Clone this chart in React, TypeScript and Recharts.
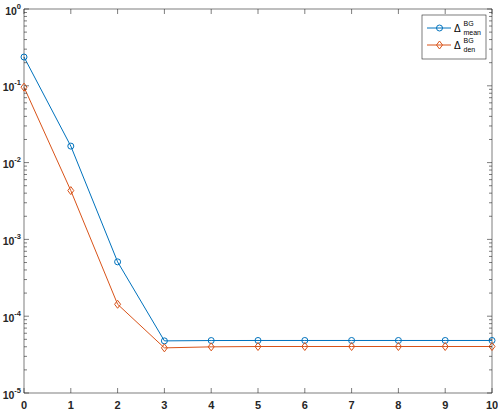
import { LineChart, Line, XAxis, YAxis, ReferenceLine } from "recharts";

// ---------------------------------------------------------------------------
// Data
// ---------------------------------------------------------------------------

const iterations = [0, 1, 2, 3, 4, 5, 6, 7, 8, 9, 10];
const deltaMean = [
  0.237, 0.0164, 5.1e-4, 4.77e-5, 4.82e-5, 4.83e-5, 4.83e-5, 4.83e-5, 4.83e-5,
  4.83e-5, 4.83e-5,
];
const deltaDen = [
  0.096, 0.00432, 1.43e-4, 3.87e-5, 3.99e-5, 4.03e-5, 4.03e-5, 4.03e-5,
  4.03e-5, 4.03e-5, 4.03e-5,
];

const xTicks = [0, 1, 2, 3, 4, 5, 6, 7, 8, 9, 10];
const decadeExponents = [-5, -4, -3, -2, -1, 0];
const minorSteps = [2, 3, 4, 5, 6, 7, 8, 9];

const seriesMeta = [
  { key: "mean", sub: "mean", color: "#0072BD", marker: "circle" },
  { key: "den", sub: "den", color: "#D95319", marker: "diamond" },
];

const data = iterations.map((it, i) => ({
  it,
  mean: deltaMean[i],
  den: deltaDen[i],
}));

const majorTicks = decadeExponents.map((e) => Math.pow(10, e));
const minorTicks = decadeExponents
  .slice(0, -1)
  .flatMap((e) => minorSteps.map((m) => m * Math.pow(10, e)));
const yTicks = [...majorTicks, ...minorTicks].sort((a, b) => a - b);

// ---------------------------------------------------------------------------
// Layout
// ---------------------------------------------------------------------------

const W = 498;
const H = 412;
const M = { top: 9, right: 6, left: 0, bottom: 0 };
const Y_AXIS_W = 24;
const X_AXIS_H = 19;
const PLOT_LEFT = M.left + Y_AXIS_W;
const PLOT_RIGHT = W - M.right;
const PLOT_TOP = M.top;
const PLOT_BOTTOM = H - M.bottom - X_AXIS_H;

const AXIS = "#262626";
const FONT = "'Liberation Sans', Arial, Helvetica, sans-serif";

// ---------------------------------------------------------------------------
// Tick renderers
// ---------------------------------------------------------------------------

function XTick(props: any) {
  const { x, payload } = props;
  return (
    <g>
      <line x1={x} y1={PLOT_BOTTOM} x2={x} y2={PLOT_BOTTOM - 5} stroke={AXIS} strokeWidth={0.6} />
      <line x1={x} y1={PLOT_TOP} x2={x} y2={PLOT_TOP + 5} stroke={AXIS} strokeWidth={0.6} />
      <text
        x={x}
        y={PLOT_BOTTOM + 15.5}
        textAnchor="middle"
        fontSize={11}
        fontWeight="bold"
        fontFamily={FONT}
        fill={AXIS}
      >
        {payload.value}
      </text>
    </g>
  );
}

function YTick(props: any) {
  const { y, payload } = props;
  const v = payload.value as number;
  const exp = Math.round(Math.log10(v));
  const major = Math.abs(Math.pow(10, exp) - v) < v * 1e-6;
  const len = major ? 5 : 3;
  return (
    <g>
      <line x1={PLOT_LEFT} y1={y} x2={PLOT_LEFT + len} y2={y} stroke={AXIS} strokeWidth={0.6} />
      <line x1={PLOT_RIGHT} y1={y} x2={PLOT_RIGHT - len} y2={y} stroke={AXIS} strokeWidth={0.6} />
      {major && (
        <text
          x={PLOT_LEFT - 3}
          y={y + 5.5}
          textAnchor="end"
          fontSize={10.5}
          fontWeight="bold"
          fontFamily={FONT}
          fill={AXIS}
        >
          10
          <tspan dy={-6} fontSize={7.5}>
            {exp}
          </tspan>
        </text>
      )}
    </g>
  );
}

// ---------------------------------------------------------------------------
// Markers
// ---------------------------------------------------------------------------

function circleDot(color: string) {
  return (p: any) => (
    <circle key={p.index} cx={p.cx} cy={p.cy} r={3} fill="none" stroke={color} strokeWidth={1} />
  );
}

function diamondDot(color: string) {
  return (p: any) => (
    <path
      key={p.index}
      d={`M${p.cx},${p.cy - 4} L${p.cx + 3},${p.cy} L${p.cx},${p.cy + 4} L${p.cx - 3},${p.cy} Z`}
      fill="none"
      stroke={color}
      strokeWidth={1}
    />
  );
}

// ---------------------------------------------------------------------------
// Legend
// ---------------------------------------------------------------------------

function LegendBox() {
  const bx = 422;
  const by = 15;
  const bw = 64;
  const bh = 44;
  return (
    <svg
      width={W}
      height={H}
      style={{ position: "absolute", left: 0, top: 0, pointerEvents: "none" }}
    >
      <rect x={bx} y={by} width={bw} height={bh} fill="#fff" stroke={AXIS} strokeWidth={0.6} />
      {seriesMeta.map((s, i) => {
        const cy = 28 + i * 17;
        const mx = 439.5;
        return (
          <g key={s.key}>
            <line x1={427} y1={cy} x2={451} y2={cy} stroke={s.color} strokeWidth={1} />
            {s.marker === "circle" ? (
              <circle cx={mx} cy={cy} r={3} fill="none" stroke={s.color} strokeWidth={1} />
            ) : (
              <path
                d={`M${mx},${cy - 4} L${mx + 3},${cy} L${mx},${cy + 4} L${mx - 3},${cy} Z`}
                fill="none"
                stroke={s.color}
                strokeWidth={1}
              />
            )}
            <text x={454} y={cy + 3.5} fontSize={10} fontFamily={FONT} fill="#000">
              Δ
            </text>
            <text x={463.5} y={cy - 2} fontSize={7} fontFamily={FONT} fill="#000">
              BG
            </text>
            <text x={463.5} y={cy + 6.5} fontSize={7} fontFamily={FONT} fill="#000">
              {s.sub}
            </text>
          </g>
        );
      })}
    </svg>
  );
}

// ---------------------------------------------------------------------------
// App
// ---------------------------------------------------------------------------

export default function App() {
  return (
    <div
      style={{
        position: "absolute",
        left: 0,
        top: 0,
        width: W,
        height: H,
        background: "#fff",
      }}
    >
      <LineChart width={W} height={H} data={data} margin={M}>
        <XAxis
          dataKey="it"
          type="number"
          domain={[0, 10]}
          ticks={xTicks}
          interval={0}
          height={X_AXIS_H}
          tickSize={0}
          tickMargin={0}
          tickLine={false}
          tick={<XTick />}
          axisLine={{ stroke: AXIS, strokeWidth: 0.6 }}
        />
        <YAxis
          type="number"
          scale="log"
          domain={[1e-5, 1]}
          allowDataOverflow
          ticks={yTicks}
          interval={0}
          width={Y_AXIS_W}
          tickSize={0}
          tickMargin={0}
          tickLine={false}
          tick={<YTick />}
          axisLine={{ stroke: AXIS, strokeWidth: 0.6 }}
        />
        <ReferenceLine y={1} stroke={AXIS} strokeWidth={0.6} />
        <ReferenceLine x={10} stroke={AXIS} strokeWidth={0.6} />
        {seriesMeta.map((s) => (
          <Line
            key={s.key}
            type="linear"
            dataKey={s.key}
            stroke={s.color}
            strokeWidth={1}
            dot={s.marker === "circle" ? circleDot(s.color) : diamondDot(s.color)}
            activeDot={false}
            isAnimationActive={false}
          />
        ))}
      </LineChart>
      <LegendBox />
    </div>
  );
}
